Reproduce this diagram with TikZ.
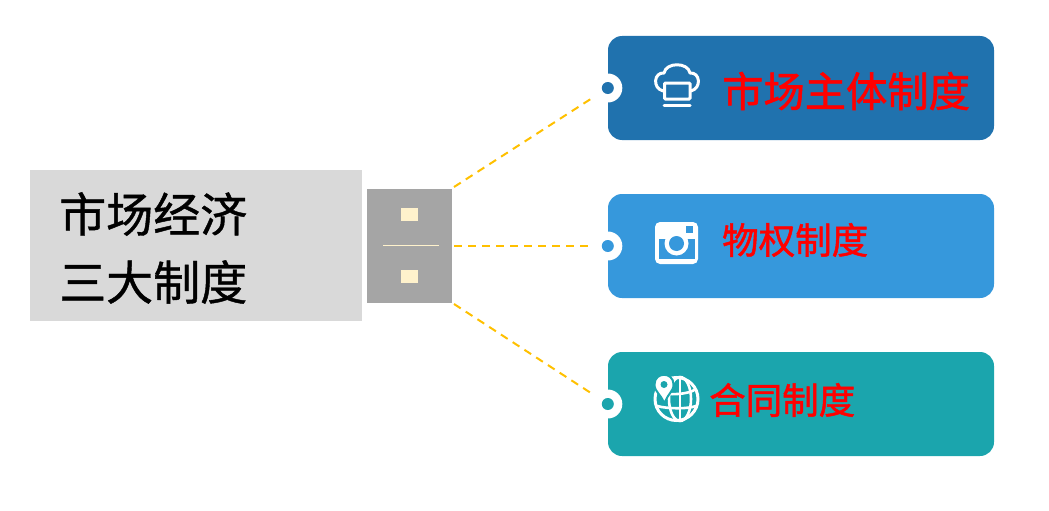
\documentclass[tikz,border=0pt]{standalone}
\usepackage{fontspec}
\setmainfont{Noto Sans CJK SC}
\newfontfamily\titlefont[FakeBold=0.9]{Noto Sans CJK SC}
\newfontfamily\cardfont[FakeBold=1.3]{Noto Sans CJK SC}
\usepackage{xcolor}
\usetikzlibrary{arrows.meta,positioning,calc}
\definecolor{MktBlue}{HTML}{2072AE}
\definecolor{MktSky}{HTML}{3698DC}
\definecolor{MktTeal}{HTML}{1BA5AD}
\definecolor{MktGray}{HTML}{D9D9D9}
\definecolor{MktPlug}{HTML}{A5A5A5}
\definecolor{MktCream}{HTML}{FFF2CC}
\definecolor{MktGold}{HTML}{FFC000}
\tikzset{
  cardbox/.style={rounded corners=14pt,minimum width=386pt,minimum height=104pt,inner sep=0pt},
  titlebox/.style={fill=MktGray,minimum width=332pt,minimum height=151pt,inner sep=0pt},
  pluggap/.style={fill=MktCream,minimum width=17pt,minimum height=13pt,inner sep=0pt},
  holedot/.style={circle,fill=white,minimum size=29pt,inner sep=0pt},
  pindot/.style={circle,minimum size=12pt,inner sep=0pt},
  cardtext/.style={anchor=west,text=red,inner sep=0pt,font=\cardfont\fontsize{#1}{#1}\selectfont},
  titletext/.style={anchor=west,inner sep=0pt,font=\titlefont\fontsize{47}{47}\selectfont},
  dashlink/.style={draw=MktGold,line width=2pt,dash pattern=on 8pt off 6pt,shorten >=3pt},
  iconline/.style={draw=white,line width=3pt},
  globeline/.style={draw=white,line width=2.6pt}
}
\begin{document}
\begin{tikzpicture}[x=1pt,y=-1pt]
\useasboundingbox (0,0) rectangle (1049,511);
\node[titlebox] (title) at (196,245.5) {};
\node[titletext] (line1) at (59,214) {市场经济};
\node[titletext] (line2) at (59,282) {三大制度};
\node[fill=MktPlug,minimum width=85pt,minimum height=114pt,inner sep=0pt] (plug) at (409.5,246) {};
\node[pluggap] (gap1) at (409.5,214.5) {};
\node[pluggap] (gap2) at (409.5,276.5) {};
\coordinate (seamL) at (383,245.5);
\coordinate (seamR) at (439,245.5);
\draw[MktCream,line width=0.8pt] (seamL) -- (seamR);
% the three cards
\node[cardbox,fill=MktBlue] (card1) at (801,88) {};
\node[cardbox,fill=MktSky] (card2) at (801,246) {};
\node[cardbox,fill=MktTeal] (card3) at (801,404) {};
\foreach \n/\c in {1/MktBlue,2/MktSky,3/MktTeal}{
  \node[holedot] (hole\n) at (card\n.west) {};
  \node[pindot,fill=\c] (pin\n) at (card\n.west) {};
}
\coordinate (plugA) at (454,187);
\coordinate (plugB) at (454,246);
\coordinate (plugC) at (454,304);
\draw[dashlink] (plugA) -- (hole1);
\draw[dashlink] (plugB) -- (hole2);
\draw[dashlink] (plugC) -- (hole3);
\node[cardtext=41.3] (label1) at (722,91) {市场主体制度};
\node[cardtext=36.5] (label2) at (722,240) {物权制度};
\node[cardtext=36.5] (label3) at (709,400) {合同制度};
% cloud icon
\draw[iconline,rounded corners=1pt] (664.5,83) rectangle (690,99);
\draw[iconline,line cap=round] (664,105.7) -- (690,105.7);
\draw[iconline,line cap=round,line join=round] (663,91) .. controls (652,88) and (654,72) .. (664,73) .. controls (666,62) and (688,62) .. (690,73) .. controls (700,72) and (702,88) .. (691,91);
% camera icon
\fill[white,rounded corners=5pt] (655,222) rectangle (698,264);
\fill[MktSky] (658.5,238.5) rectangle (694.5,259);
\fill[white] (676.5,243.5) circle (12pt);
\fill[MktSky] (676.5,243.5) circle (7.5pt);
\fill[MktSky] (686,226) rectangle (693,233);
% globe icon
\draw[globeline,line width=3pt] (676.5,399) circle (21.5pt);
\draw[globeline] (680,377) -- (680,421);
\draw[globeline] (680,399) ellipse (11pt and 22pt);
\draw[globeline] (658,393) .. controls (668,395) and (688,395) .. (696,389);
\draw[globeline] (657,406) .. controls (668,409) and (688,409) .. (696,406);
\draw[fill=white,draw=MktTeal,line width=2pt,line join=round] (664.5,404) .. controls (661,394) and (654.5,392) .. (654.5,384.5) .. controls (654.5,371.5) and (673.5,371.5) .. (673.5,384.5) .. controls (673.5,392) and (667,394) .. (664.5,404) -- cycle;
\fill[MktTeal] (664,384.5) circle (3.5pt);
\end{tikzpicture}
\end{document}
